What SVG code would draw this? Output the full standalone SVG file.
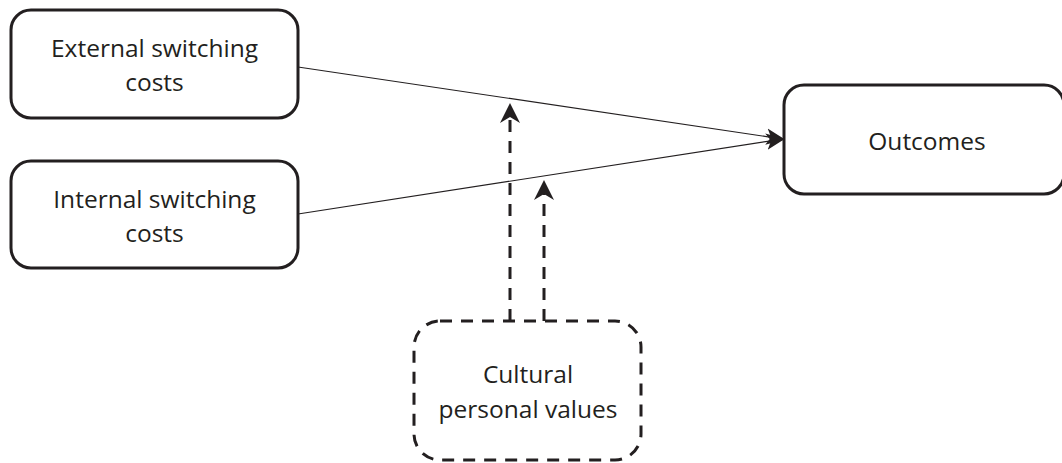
<svg xmlns="http://www.w3.org/2000/svg" width="1062" height="463" viewBox="0 0 1062 463">
  <defs>
    <style>
      .box { fill: #ffffff; stroke: #231f20; stroke-width: 3; }
      .dbox { fill: #ffffff; stroke: #231f20; stroke-width: 3; stroke-dasharray: 12 9; }
      .lbl { font-family: "Open Sans", "Liberation Sans", sans-serif; font-size: 24.5px; fill: #231f20; text-anchor: middle; }
      .solid { fill: none; stroke: #231f20; stroke-width: 1.2; }
      .dashed { fill: none; stroke: #231f20; stroke-width: 3; stroke-dasharray: 12 9; }
    </style>
    <marker id="arrS" markerUnits="userSpaceOnUse" markerWidth="20" markerHeight="20" viewBox="0 -8 17 16" refX="4" refY="0" orient="auto">
      <path d="M0,-7 L16,0 L0,7 L4,0 Z" fill="#231f20" stroke="none"/>
    </marker>
    <marker id="arrD" markerUnits="userSpaceOnUse" markerWidth="22" markerHeight="22" viewBox="0 -11 21 22" refX="6" refY="0" orient="auto">
      <path d="M0,-10 L20,0 L0,10 L6,0 Z" fill="#231f20" stroke="none"/>
    </marker>
  </defs>
  <rect width="1062" height="463" fill="#ffffff"/>

  <g id="connectors">
    <line class="solid" x1="298" y1="67" x2="771.1" y2="137.3" marker-end="url(#arrS)"/>
    <line class="solid" x1="298" y1="214" x2="771.1" y2="140.8" marker-end="url(#arrS)"/>
    <line class="dashed" x1="510" y1="321" x2="510" y2="117" marker-end="url(#arrD)"/>
    <line class="dashed" x1="544" y1="321" x2="544" y2="194" marker-end="url(#arrD)"/>
  </g>

  <g id="node-external">
    <rect class="box" x="11" y="10" width="287" height="108" rx="20" ry="20"/>
    <text class="lbl" x="154.5" y="57">External switching</text>
    <text class="lbl" x="154.5" y="91">costs</text>
  </g>

  <g id="node-internal">
    <rect class="box" x="11" y="161" width="287" height="107" rx="20" ry="20"/>
    <text class="lbl" x="154.5" y="208">Internal switching</text>
    <text class="lbl" x="154.5" y="242">costs</text>
  </g>

  <g id="node-outcomes">
    <rect class="box" x="784" y="85" width="280" height="109" rx="20" ry="20"/>
    <text class="lbl" x="927" y="150">Outcomes</text>
  </g>

  <g id="node-cultural">
    <rect class="dbox" x="414" y="321" width="227" height="139" rx="26" ry="26"/>
    <text class="lbl" x="528" y="383">Cultural</text>
    <text class="lbl" x="528" y="418">personal values</text>
  </g>
</svg>
